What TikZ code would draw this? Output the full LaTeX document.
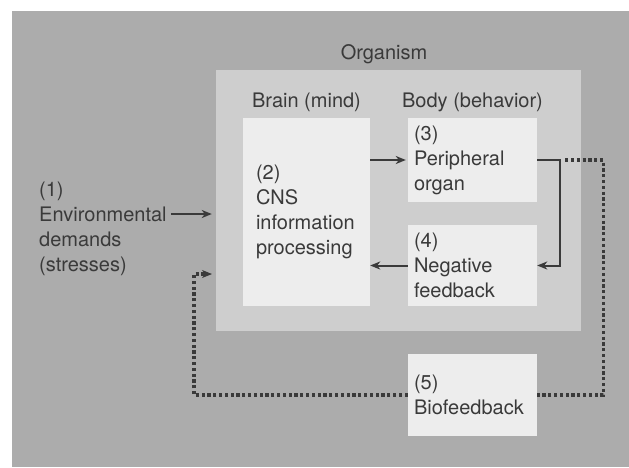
\documentclass[tikz,border=0pt]{standalone}
\usepackage{fontspec}
\setmainfont{TeX Gyre Heros}
\usetikzlibrary{arrows.meta,positioning}
\definecolor{bggray}{RGB}{172,172,172}
\definecolor{orggray}{RGB}{206,206,206}
\definecolor{boxgray}{RGB}{237,237,237}
\definecolor{inkgray}{RGB}{58,58,58}
\begin{document}
\begin{tikzpicture}[x=1pt,y=-1pt,font=\fontsize{20}{25}\selectfont,text=inkgray,
stagebox/.style={fill=boxgray,align=left,inner ysep=0,inner xsep=6,text width=117,minimum height=#1},
lbl/.style={inner sep=0,align=left},
arr/.style={draw=inkgray,line width=2pt,-{Stealth[length=10pt,width=8pt,inset=3pt]}},
dots/.style={draw=inkgray,line width=3.4pt,dash pattern=on 3.2pt off 2.6pt}]
\useasboundingbox(0,0)rectangle(629,467);
\fill[white](0,0)rectangle(629,467);
\fill[bggray](12,11)rectangle(629,467);
% organism and its parts
\node[fill=orggray,minimum width=365,minimum height=261,inner sep=0](org)at(398.5,200.5){};
\node[lbl,anchor=base](orglbl)at(384,59){Organism};
\node[stagebox=188,inner xsep=13,text width=101](box2)at(306.5,212){(2)\\CNS\\information\\processing};
\node[stagebox=84](box3)at(472.5,160){(3)\\Peripheral\\organ};
\node[stagebox=81](box4)at(472.5,265.5){(4)\\Negative\\feedback};
\node[stagebox=82](box5)at(472.5,395){(5)\\Biofeedback};
\node[lbl,above=6pt of box2](brain){Brain (mind)};
\node[lbl,above=6pt of box3](body){Body (behavior)};
\node[lbl,anchor=west](env)at(39,229){(1)\\Environmental\\demands\\(stresses)};
% connectors
\draw[arr,shorten <=4pt,shorten >=4pt]([yshift=15pt]env.east)--([yshift=15pt]env.east-|org.west);
\draw[arr,shorten >=2pt](box2.east|-box3)--(box3.west);
\draw[arr](box4.west)--(box4.west-|box2.east);
\coordinate(junc)at([xshift=23pt]box3.east);
\draw[arr](box3.east)--(junc)|-(box4.east);
\draw[dots]([xshift=5pt]junc)--++(38,0)|-(box5.east);
\coordinate(fbin)at(212,274);
\draw[dots,-{Stealth[length=10pt,width=8pt,inset=3pt,line width=1pt]}](box5.west)-|([xshift=-18pt]fbin)--(fbin);
\end{tikzpicture}
\end{document}
